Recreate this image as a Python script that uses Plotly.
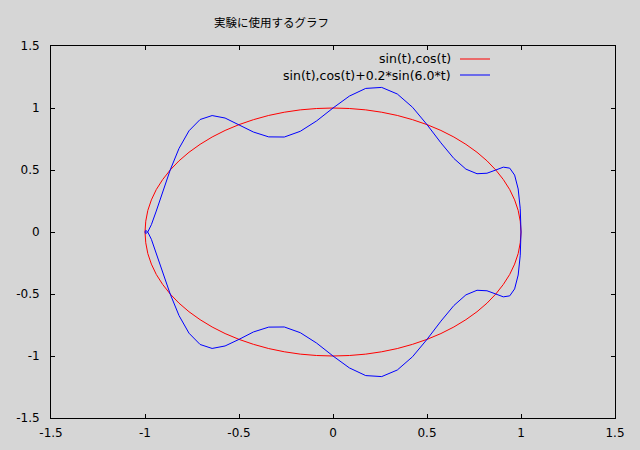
import plotly.graph_objects as go

# Values (both curves share the same x positions)
x_vals = [0, .087, .174, .259, .342, .423, .5, .574, .643, .707, .766, .819, .866, .906, .940, .966, .985, .996,
          1, .996, .985, .966, .940, .906, .866, .819, .766, .707, .643, .574, .5, .423, .342, .259, .174, .087,
          0, -.087, -.174, -.259, -.342, -.423, -.5, -.574, -.643, -.707, -.766, -.819, -.866, -.906, -.940, -.966, -.985, -.996,
          -1, -.996, -.985, -.966, -.940, -.906, -.866, -.819, -.766, -.707, -.643, -.574, -.5, -.423, -.342, -.259, -.174, -.087, 0]
y_circle = [1, .996, .985, .966, .940, .906, .866, .819, .766, .707, .643, .574, .5, .423, .342, .259, .174, .087,
            0, -.087, -.174, -.259, -.342, -.423, -.5, -.574, -.643, -.707, -.766, -.819, -.866, -.906, -.940, -.966, -.985, -.996,
            -1, -.996, -.985, -.966, -.940, -.906, -.866, -.819, -.766, -.707, -.643, -.574, -.5, -.423, -.342, -.259, -.174, -.087,
            0, .087, .174, .259, .342, .423, .5, .574, .643, .707, .766, .819, .866, .906, .940, .966, .985, .996, 1]
y_wave = [1, 1.096, 1.158, 1.166, 1.113, 1.006, .866, .719, .593, .507, .470, .474, .5, .523, .515, .459, .347, .187,
          0, -.187, -.347, -.459, -.515, -.523, -.5, -.474, -.470, -.507, -.593, -.719, -.866, -1.006, -1.113, -1.166, -1.158, -1.096,
          -1, -.896, -.812, -.766, -.767, -.806, -.866, -.919, -.939, -.907, -.816, -.674, -.5, -.323, -.169, -.059, -.001, .013,
          0, -.013, .001, .059, .169, .323, .5, .674, .816, .907, .939, .919, .866, .806, .767, .766, .812, .896, 1]

series_names = ["sin(t),cos(t)", "sin(t),cos(t)+0.2*sin(6.0*t)"]
series_colors = ["#ff0000", "#0000ff"]
tick_vals = [-1.5, -1, -0.5, 0, 0.5, 1, 1.5]
tick_text = ["-1.5", "-1", "-0.5", "0", "0.5", "1", "1.5"]
title_text = "実験に使用するグラフ"

BG = "#d6d6d6"
W, H = 640, 450
ML, MR, MT, MB = 51, 25, 46, 32

fig = go.Figure()
for ys, name, col in zip([y_circle, y_wave], series_names, series_colors):
    fig.add_trace(go.Scatter(x=x_vals, y=ys, mode="lines", name=name,
                             line=dict(color=col, width=1), showlegend=False))

axis_common = dict(range=[-1.5, 1.5], tickvals=tick_vals, ticktext=tick_text,
                   showgrid=False, zeroline=False, showline=True, linecolor="black",
                   linewidth=1, mirror="allticks", ticks="inside", ticklen=4,
                   tickcolor="black", tickwidth=1, automargin=False,
                   tickfont=dict(family="DejaVu Sans", size=12, color="black"))
fig.update_xaxes(**axis_common, ticklabelstandoff=4)
fig.update_yaxes(**axis_common, ticklabelstandoff=8)

pw = W - ML - MR
ph = H - MT - MB
def px(xp):
    return (xp - ML) / pw
def py(yp):
    return 1 - (yp - MT) / ph

annotations = [dict(text=title_text, x=px(271), y=py(22), xref="paper", yref="paper",
                    xanchor="center", yanchor="middle", showarrow=False,
                    font=dict(family="Noto Sans CJK JP", size=11.5, color="black"))]
shapes = []
for i, (name, col) in enumerate(zip(series_names, series_colors)):
    yy = 59 + 16 * i
    annotations.append(dict(text=name, x=px(453), y=py(yy), xref="paper", yref="paper",
                            xanchor="right", yanchor="middle", showarrow=False,
                            font=dict(family="DejaVu Sans", size=12.5, color="black")))
    shapes.append(dict(type="line", xref="paper", yref="paper", x0=px(460), x1=px(490),
                       y0=py(yy), y1=py(yy), line=dict(color=col, width=1)))

fig.update_layout(width=W, height=H, paper_bgcolor=BG, plot_bgcolor=BG,
                  margin=dict(l=ML, r=MR, t=MT, b=MB),
                  annotations=annotations, shapes=shapes, showlegend=False)

fig.write_html("out.html", config={"displayModeBar": False},
               post_script="document.body.style.margin='0';document.body.style.padding='0';")
